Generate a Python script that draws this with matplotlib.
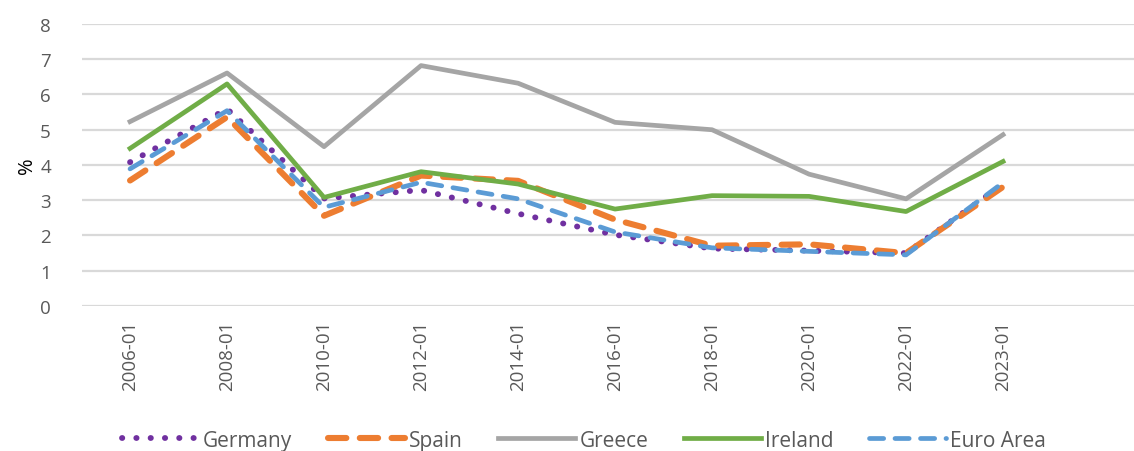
import numpy as np
import matplotlib.pyplot as plt

# data
periods = ["2006-01", "2008-01", "2010-01", "2012-01", "2014-01",
           "2016-01", "2018-01", "2020-01", "2022-01", "2023-01"]
germany = [4.08, 5.59, 3.05, 3.29, 2.62, 2.02, 1.63, 1.57, 1.50, 3.45]
spain = [3.56, 5.36, 2.56, 3.70, 3.55, 2.45, 1.71, 1.75, 1.50, 3.38]
greece = [5.23, 6.61, 4.52, 6.82, 6.32, 5.21, 5.00, 3.74, 3.04, 4.86]
ireland = [4.47, 6.30, 3.08, 3.81, 3.46, 2.75, 3.13, 3.11, 2.68, 4.10]
euro_area = [3.89, 5.54, 2.80, 3.51, 3.04, 2.10, 1.65, 1.55, 1.45, 3.50]

plt.rcParams.update({
    "font.family": ["Open Sans", "DejaVu Sans"],
    "text.color": "#595959",
    "xtick.color": "#595959",
    "ytick.color": "#595959",
})

fig = plt.figure(figsize=(11.34, 4.52), dpi=100)
ax = fig.add_axes([0.0719, 0.3208, 0.9281, 0.6239])

x = np.arange(len(periods))
ax.plot(x, germany, color="#7030A0", lw=4.2, ls=(0, (0.05, 2.4)),
        dash_capstyle="round", label="Germany")
ax.plot(x, spain, color="#ED7D31", lw=4.4, ls=(0, (3.0, 2.2)),
        dash_capstyle="round", label="Spain")
ax.plot(x, greece, color="#A5A5A5", lw=3.4, label="Greece")
ax.plot(x, ireland, color="#70AD47", lw=3.4, label="Ireland")
ax.plot(x, euro_area, color="#5B9BD5", lw=3.4, ls=(0, (3.0, 2.4)),
        dash_capstyle="round", label="Euro Area")

ax.set_xlim(-0.5, 10.35)
ax.set_ylim(0, 8)
ax.set_xticks(x)
ax.set_xticklabels(periods, rotation=90, fontsize=13.5)
ax.set_yticks(range(0, 9))
ax.tick_params(axis="y", labelsize=13.5, length=0, pad=22)
ax.tick_params(axis="x", length=0, pad=10)
ax.yaxis.grid(True, color="#D9D9D9", lw=1.6)
ax.set_axisbelow(True)
for s in ax.spines.values():
    s.set_visible(False)
ax.set_ylabel("%", fontsize=14.5, labelpad=2)

fig.legend(loc="center", bbox_to_anchor=(0.515, 0.024), ncol=5, frameon=False,
           fontsize=15, handlelength=3.7, handletextpad=0.2,
           columnspacing=1.7)

fig.savefig("out.png", dpi=100)
